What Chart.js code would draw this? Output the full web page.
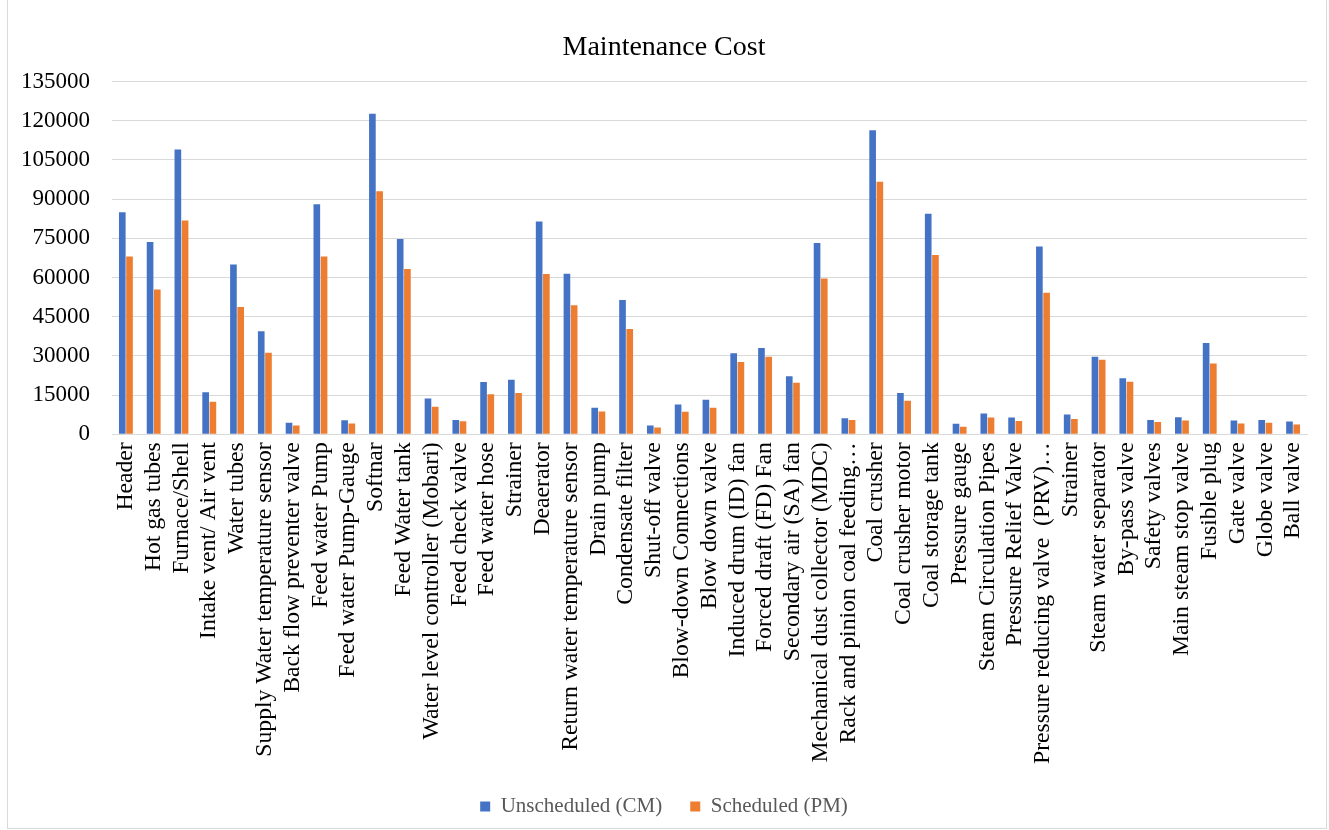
<!DOCTYPE html>
<html>
<head>
<meta charset="utf-8">
<script src="https://cdn.jsdelivr.net/npm/chart.js@4.4.1/dist/chart.umd.min.js"></script>
<style>
  html, body { margin: 0; padding: 0; background: #fff; }
  #wrap { position: absolute; left: 7px; top: 0; width: 1320px; height: 829px; border: 1px solid #d9d9d9; border-top: none; box-sizing: border-box; overflow: hidden; }
  canvas { display: block; }
</style>
</head>
<body>
<div id="wrap"><canvas id="chart" width="1318" height="827"></canvas></div>
<script>
// categories (x axis)
const components = [
    'Header', 'Hot gas tubes', 'Furnace/Shell', 'Intake vent/ Air vent', 'Water tubes',
    'Supply Water temperature sensor', 'Back flow preventer valve', 'Feed water Pump',
    'Feed water Pump-Gauge', 'Softnar', 'Feed Water tank', 'Water level controller (Mobari)',
    'Feed check valve', 'Feed water hose', 'Strainer', 'Deaerator',
    'Return water temperature sensor', 'Drain pump', 'Condensate filter', 'Shut-off valve',
    'Blow-down Connections', 'Blow down valve', 'Induced drum (ID) fan', 'Forced draft (FD) Fan',
    'Secondary air (SA) fan', 'Mechanical dust collector (MDC)', 'Rack and pinion coal feeding…',
    'Coal crusher', 'Coal crusher motor', 'Coal storage tank', 'Pressure gauge',
    'Steam Circulation Pipes', 'Pressure Relief Valve', 'Pressure reducing valve  (PRV)…',
    'Strainer', 'Steam water separator', 'By-pass valve', 'Safety valves',
    'Main steam stop valve', 'Fusible plug', 'Gate valve', 'Globe valve', 'Ball valve'
];

// series values
const unscheduledCM = [
    85000, 73600, 109000, 16100, 65000, 39400, 4400, 88000, 5400, 122700, 74700, 13700,
    5500, 20000, 20900, 81400, 61400, 10100, 51400, 3300, 11400, 13200, 31000, 33000,
    22200, 73200, 6100, 116400, 15800, 84400, 4000, 7900, 6400, 71900, 7600, 29700,
    21400, 5500, 6500, 34900, 5300, 5500, 4900
];
const scheduledPM = [
    68000, 55400, 81800, 12400, 48700, 31200, 3300, 68000, 4100, 93000, 63300, 10500,
    5000, 15300, 15800, 61300, 49400, 8700, 40300, 2600, 8600, 10100, 27700, 29700,
    19700, 59600, 5500, 96700, 12800, 68600, 2900, 6400, 5100, 54200, 5800, 28500,
    20100, 4700, 5300, 27100, 4100, 4400, 3700
];

// y axis ticks
const yMax = 135000;
const yStep = 15000;

const FONT = '"Liberation Serif", "Times New Roman", serif';

new Chart(document.getElementById('chart'), {
    type: 'bar',
    data: {
        labels: components,
        datasets: [
            { label: 'Unscheduled (CM)', data: unscheduledCM, backgroundColor: '#4472c4',
              borderWidth: 0, categoryPercentage: 0.52, barPercentage: 0.92 },
            { label: 'Scheduled (PM)', data: scheduledPM, backgroundColor: '#ed7d31',
              borderWidth: 0, categoryPercentage: 0.52, barPercentage: 0.92 }
        ]
    },
    options: {
        responsive: false,
        animation: false,
        layout: { padding: { left: 13, right: 19, top: 0, bottom: 0 } },
        plugins: {
            title: {
                display: true, text: 'Maintenance Cost', color: '#000',
                font: { family: FONT, size: 28, weight: 'normal' },
                padding: { top: 31, bottom: 17 }
            },
            legend: {
                position: 'bottom',
                labels: {
                    color: '#595959', boxWidth: 10, boxHeight: 10, padding: 28,
                    font: { family: FONT, size: 21 }
                }
            },
            tooltip: { enabled: false }
        },
        scales: {
            x: {
                grid: { display: true, color: 'rgba(0,0,0,0)', drawTicks: true, tickLength: 4, tickColor: 'rgba(0,0,0,0)' },
                border: { color: '#d9d9d9' },
                ticks: {
                    color: '#000', autoSkip: false, minRotation: 90, maxRotation: 90, padding: 4,
                    font: { family: FONT, size: 23.7 }
                }
            },
            y: {
                min: 0, max: yMax,
                grid: { color: '#d9d9d9', lineWidth: 1, drawTicks: true, tickLength: 22, tickColor: 'rgba(0,0,0,0)' },
                border: { display: false },
                ticks: {
                    stepSize: yStep, color: '#000', padding: 0,
                    font: { family: FONT, size: 23 },
                    callback: v => String(v)
                }
            }
        }
    }
});
</script>
</body>
</html>
